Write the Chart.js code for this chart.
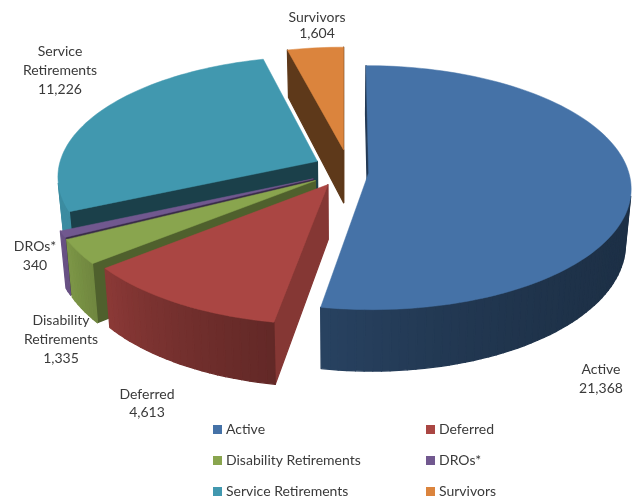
<!DOCTYPE html>
<html>
<head>
<meta charset="utf-8">
<style>html,body{margin:0;padding:0;background:#fff}canvas{display:block}</style>
<script src="https://cdn.jsdelivr.net/npm/chart.js@4"></script>
</head>
<body>
<canvas id="c" width="635" height="500"></canvas>
<script>
const categories = ["Active","Deferred","Disability Retirements","DROs*","Service Retirements","Survivors"];
const values = [21368,4613,1335,340,11226,1604];
const colors = ["#4572A7","#AA4643","#89A54E","#71588F","#4198AF","#DB843D"];
const explode = [19,24,26,26,23,38];
const sideShade = [.5,.78,.58,.5,.42,.43];

const FONT = '14px Lato, "Open Sans", sans-serif';
const TEXT = '#3a3a3a';
const view = {cx:344, cy:172, rx:260, ry:120, persp:.12, depth:54, shrink:.02};
const nudgeX = [0,0,0,0,0,.022];
const nudgeY = [0,0,0,0,-.04,0];

function rgb(hex,f){
  const n=parseInt(hex.slice(1),16);
  return `rgb(${Math.round((n>>16&255)*f)},${Math.round((n>>8&255)*f)},${Math.round((n&255)*f)})`;
}
function project(u,v,z){
  const w=1/(1-view.persp*v);
  return [view.cx+u*view.rx*w*(1-z*view.shrink), view.cy+v*view.ry*w+z*view.depth*w];
}
function wallShade(a){
  let deg=((a*180/Math.PI+90)%360+360)%360;
  if(deg>300) deg=95;
  const t=Math.min(1,Math.max(0,(deg-95)/(243-95)));
  return .42+.5*Math.pow(t,2.5);
}
function poly(ctx,pts,fill,lw){
  ctx.beginPath();
  pts.forEach((p,i)=>i?ctx.lineTo(p[0],p[1]):ctx.moveTo(p[0],p[1]));
  ctx.closePath();
  ctx.fillStyle=fill;ctx.strokeStyle=fill;ctx.lineWidth=lw;ctx.lineJoin='round';
  ctx.fill();ctx.stroke();
}
function wall(ctx,A,B,fill){
  const q=[project(A[0],A[1],0),project(B[0],B[1],0),project(B[0],B[1],1),project(A[0],A[1],1)];
  let s=0;
  for(let i=0;i<4;i++){const p=q[i],r=q[(i+1)%4];s+=p[0]*r[1]-r[0]*p[1];}
  if(s<0) poly(ctx,q,fill,1.3);
}
const pie3d={
  id:'pie3d',
  beforeDatasetDraw(chart,args){
    const ctx=chart.ctx, meta=args.meta;
    const slices=meta.data.map((arc,i)=>{
      const p=arc.getProps(['startAngle','endAngle','outerRadius'],true);
      const mid=(p.startAngle+p.endAngle)/2;
      const off=(arc.options.offset||0)/p.outerRadius;
      return {i,a1:p.startAngle,a2:p.endAngle,mid,
        ox:Math.cos(mid)*off+nudgeX[i],oy:Math.sin(mid)*off+nudgeY[i]};
    }).sort((s,t)=>Math.sin(s.mid)-Math.sin(t.mid));
    slices.forEach(s=>{
      const col=colors[s.i], apex=[s.ox,s.oy], pts=[];
      const n=Math.max(2,Math.ceil((s.a2-s.a1)/.03));
      for(let k=0;k<=n;k++){
        const a=s.a1+(s.a2-s.a1)*k/n;
        pts.push([s.ox+Math.cos(a),s.oy+Math.sin(a),a]);
      }
      wall(ctx,apex,pts[0],rgb(col,sideShade[s.i]));
      wall(ctx,pts[n],apex,rgb(col,sideShade[s.i]));
      for(let k=0;k<n;k++) wall(ctx,pts[k],pts[k+1],rgb(col,wallShade(pts[k][2])));
      poly(ctx,[project(apex[0],apex[1],0)].concat(pts.map(p=>project(p[0],p[1],0))),col,.5);
    });
    return false;
  },
  afterDraw(chart){
    const ctx=chart.ctx;
    ctx.save();
    ctx.font=FONT;ctx.fillStyle=TEXT;ctx.textBaseline='middle';ctx.textAlign='center';
    const fmt=v=>v.toLocaleString('en-US');
    const place=[
      [601,[369,388],["Active"]],
      [147,[394,412],["Deferred"]],
      [61,[320,339,358],["Disability","Retirements"]],
      [35,[246,265],["DROs*"]],
      [60,[51,70,89],["Service","Retirements"]],
      [317,[17,33],["Survivors"]]
    ];
    place.forEach((p,i)=>{
      p[2].concat(fmt(values[i])).forEach((t,j)=>ctx.fillText(t,p[0],p[1][j]));
    });
    const items=chart.options.plugins.legend.labels.generateLabels(chart);
    ctx.textAlign='left';
    items.forEach((it,i)=>{
      const x=i%2?426:213, y=[429.5,460.5,491.5][i>>1];
      ctx.fillStyle=it.fillStyle;ctx.fillRect(x,y-4.5,9,9);
      ctx.fillStyle=TEXT;ctx.fillText(it.text,x+13,y);
    });
    ctx.restore();
  }
};
new Chart(document.getElementById('c'),{
  type:'pie',
  data:{labels:categories,datasets:[{data:values,backgroundColor:colors,offset:explode,radius:200,borderWidth:0}]},
  options:{responsive:false,animation:false,
    plugins:{legend:{display:false},tooltip:{enabled:false}}},
  plugins:[pie3d]
});
</script>
</body>
</html>
